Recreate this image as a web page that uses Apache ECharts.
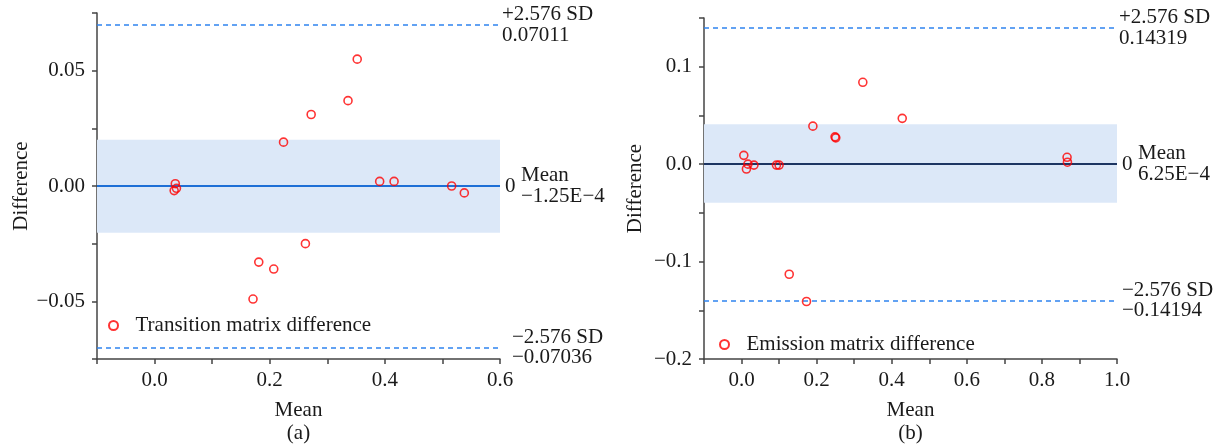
<!DOCTYPE html>
<html>
<head>
<meta charset="utf-8">
<script src="https://cdn.jsdelivr.net/npm/echarts@6/dist/echarts.min.js"></script>
<style>
  html, body { margin: 0; padding: 0; background: #fff; }
  #chart { width: 1222px; height: 444px; }
</style>
</head>
<body>
<div id="chart"></div>
<script>
// (a) transition matrix: [mean, difference]
const transPoints = [
  [0.036, 0.001], [0.034, -0.002], [0.038, -0.001],
  [0.224, 0.019], [0.272, 0.031], [0.336, 0.037], [0.352, 0.055],
  [0.391, 0.002], [0.416, 0.002], [0.516, 0.000], [0.538, -0.003],
  [0.262, -0.025], [0.181, -0.033], [0.207, -0.036], [0.171, -0.049]
];
const transMean = -1.25e-4;
const transLimits = [-0.07036, 0.07011];
const transBand = [-0.0203, 0.0200];

// (b) emission matrix: [mean, difference]
const emisPoints = [
  [0.006, 0.009], [0.017, 0.000], [0.013, -0.005], [0.033, -0.001],
  [0.093, -0.001], [0.100, -0.001], [0.190, 0.039], [0.249, 0.028],
  [0.251, 0.027], [0.323, 0.084], [0.428, 0.047], [0.867, 0.007],
  [0.868, 0.002], [0.127, -0.113], [0.173, -0.141]
];
const emisMean = 6.25e-4;
const emisLimits = [-0.14194, 0.14319];
const emisBand = [-0.0397, 0.0410];

// tick labels (other ticks are drawn unlabelled)
const transXLabels = [0, 0.2, 0.4, 0.6];
const transYLabels = [-0.05, 0, 0.05];
const emisXLabels = [0, 0.2, 0.4, 0.6, 0.8, 1.0];
const emisYLabels = [-0.2, -0.1, 0, 0.1];

const FONT = 'Liberation Serif';
const txt = { fontFamily: FONT, fontSize: 21, color: '#1a1a1a' };

function labeler(list, dec) {
  return function (v) {
    const hit = list.find(t => Math.abs(t - v) < 1e-9);
    if (hit === undefined) return '';
    return hit.toFixed(dec).replace('-', '\u2212');
  };
}

function fmtSigned(v) {
  return String(v).replace('-', '\u2212');
}

function axisBase() {
  return {
    type: 'value',
    axisLine: { show: true, onZero: false, lineStyle: { color: '#444', width: 1.5 } },
    axisTick: { show: true, length: 5, lineStyle: { color: '#444', width: 1.5 } },
    splitLine: { show: false },
    nameTextStyle: Object.assign({ lineHeight: 23 }, txt),
  };
}

function markLines(limits, mean, meanColor, sdDist, meanLabel) {
  const dash = { color: '#2f84f0', width: 1.5, type: [5, 4] };
  return {
    silent: true,
    symbol: 'none',
    animation: false,
    data: [
      { yAxis: limits[1], lineStyle: dash,
        label: Object.assign({ position: 'end', distance: 2, lineHeight: 21,
          formatter: '+2.576 SD\n' + limits[1] }, txt) },
      { yAxis: limits[0], lineStyle: dash,
        label: Object.assign({ position: 'end', distance: sdDist, lineHeight: 20,
          formatter: '\u22122.576 SD\n' + fmtSigned(limits[0]) }, txt) },
      { yAxis: mean, lineStyle: { color: meanColor, width: 2, type: 'solid' },
        label: Object.assign({ position: 'end', distance: 5, formatter: '0' }, txt) },
      { yAxis: mean, lineStyle: { color: meanColor, width: 2, type: 'solid' },
        label: Object.assign({ position: 'end', distance: 21, lineHeight: 21,
          formatter: 'Mean\n' + meanLabel }, txt) }
    ]
  };
}

function band(b) {
  return {
    silent: true,
    itemStyle: { color: '#dce8f8' },
    data: [[{ yAxis: b[0] }, { yAxis: b[1] }]]
  };
}

const chart = echarts.init(document.getElementById('chart'));
chart.setOption({
  animation: false,
  grid: [
    { left: 97, top: 13, width: 403, height: 346, outerBoundsMode: 'none', containLabel: false },
    { left: 704, top: 18, width: 413, height: 341, outerBoundsMode: 'none', containLabel: false }
  ],
  xAxis: [
    Object.assign(axisBase(), {
      gridIndex: 0, min: -0.1, max: 0.6, interval: 0.1,
      name: 'Mean\n(a)', nameLocation: 'middle', nameGap: 40,
      axisLabel: Object.assign({ margin: 11, formatter: labeler(transXLabels, 1) }, txt)
    }),
    Object.assign(axisBase(), {
      gridIndex: 1, min: -0.1, max: 1.0, interval: 0.1,
      name: 'Mean\n(b)', nameLocation: 'middle', nameGap: 40,
      axisLabel: Object.assign({ margin: 11, formatter: labeler(emisXLabels, 1) }, txt)
    })
  ],
  yAxis: [
    Object.assign(axisBase(), {
      gridIndex: 0, min: -0.075, max: 0.075, interval: 0.025,
      name: 'Difference', nameLocation: 'middle', nameGap: 64,
      axisLabel: Object.assign({ margin: 12, formatter: labeler(transYLabels, 2) }, txt)
    }),
    Object.assign(axisBase(), {
      gridIndex: 1, min: -0.2, max: 0.15, interval: 0.05,
      name: 'Difference', nameLocation: 'middle', nameGap: 57,
      axisLabel: Object.assign({ margin: 12, formatter: labeler(emisYLabels, 1) }, txt)
    })
  ],
  legend: [
    { data: ['Transition matrix difference'], left: 103, top: 310, itemWidth: 30, itemHeight: 9,
      textStyle: Object.assign({ padding: [0, 0, 0, 2] }, txt) },
    { data: ['Emission matrix difference'], left: 714, top: 329, itemWidth: 30, itemHeight: 9,
      textStyle: Object.assign({ padding: [0, 0, 0, 2] }, txt) }
  ],
  series: [
    {
      name: 'Transition matrix difference', type: 'scatter',
      xAxisIndex: 0, yAxisIndex: 0, data: transPoints,
      symbol: 'circle', symbolSize: 8, z: 5,
      itemStyle: { color: 'rgba(255,255,255,0)', borderColor: '#ff0000', borderWidth: 1.6 },
      markArea: band(transBand),
      markLine: markLines(transLimits, transMean, '#1e6fd6', 12, '\u22121.25E\u22124')
    },
    {
      name: 'Emission matrix difference', type: 'scatter',
      xAxisIndex: 1, yAxisIndex: 1, data: emisPoints,
      symbol: 'circle', symbolSize: 8, z: 5,
      itemStyle: { color: 'rgba(255,255,255,0)', borderColor: '#ff0000', borderWidth: 1.6 },
      markArea: band(emisBand),
      markLine: markLines(emisLimits, emisMean, '#1d3562', 5, '6.25E\u22124')
    }
  ]
});
</script>
</body>
</html>
